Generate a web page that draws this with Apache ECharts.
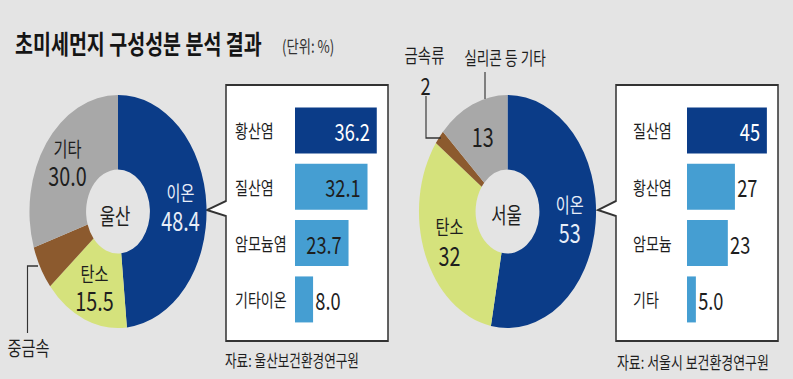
<!DOCTYPE html>
<html>
<head>
<meta charset="utf-8">
<script src="https://cdn.jsdelivr.net/npm/echarts@6/dist/echarts.min.js"></script>
<style>
  html, body { margin: 0; padding: 0; background: #e4e4e4; overflow: hidden; }
  #wrap { width: 793px; height: 379px; overflow: hidden; }
  #chart { width: 1044px; height: 379px; transform: scaleX(0.76); transform-origin: 0 0; }
</style>
</head>
<body>
<div id="wrap"><div id="chart"></div></div>
<script>
// ---------------- data ----------------
const titleText = '초미세먼지 구성성분 분석 결과';
const unitText = '(단위: %)';
const cities = ['울산', '서울'];
const ulsanNames = ['이온', '탄소', '중금속', '기타'];
const ulsanValues = [48.4, 15.5, 6.1, 30.0];
const seoulNames = ['이온', '탄소', '금속류', '실리콘 등 기타'];
const seoulValues = [53, 32, 2, 13];
const ulsanIonNames = ['황산염', '질산염', '암모늄염', '기타이온'];
const ulsanIonValues = [36.2, 32.1, 23.7, 8.0];
const seoulIonNames = ['질산염', '황산염', '암모늄', '기타'];
const seoulIonValues = [45, 27, 23, 5.0];
const sources = ['자료: 울산보건환경연구원', '자료: 서울시 보건환경연구원'];

// ---------------- styling / layout ----------------
const SX = 0.76;               // horizontal squeeze of the original graphic
const X = v => v / SX;         // reference x -> chart x
const FONT = '"Noto Sans CJK KR", "Noto Sans", sans-serif';
const C = { navy: '#0b3c88', light: '#459ed2', green: '#d5e27c', brown: '#8c5a2e', gray: '#a8a8a8', ink: '#1e1e1e', line: '#333333' };
const sliceColors = [C.navy, C.green, C.brown, C.gray];
const sliceLabelColors = ['#e8eef8', C.ink, '#f6eedf', C.ink];
const ulsanLabelMode = ['both', 'both', 'value', 'both'];
const seoulLabelMode = ['both', 'both', 'none', 'value'];
const fmt1 = v => v.toFixed(1);
const fmtInt = v => String(v);
const fmtBarR = v => (v < 10 ? v.toFixed(1) : String(v));

function pieSeries(names, values, cx, modes, fmt, nameLH, valLH) {
  return {
    type: 'pie',
    center: [X(cx), 211.5],
    radius: [42, 116.5],
    startAngle: 90,
    clockwise: true,
    avoidLabelOverlap: false,
    silent: true,
    label: {
      position: 'inside',
      fontFamily: FONT,
      formatter: p => {
        const m = modes[p.dataIndex];
        if (m === 'both') return '{n|' + p.name + '}\n{v|' + fmt(p.value) + '}';
        if (m === 'value') return '{v|' + fmt(p.value) + '}';
        return '';
      },
      rich: {
        n: { fontSize: 20, lineHeight: nameLH, fontFamily: FONT },
        v: { fontSize: 26, lineHeight: valLH, fontFamily: FONT }
      }
    },
    labelLine: { show: false },
    data: names.map((n, i) => ({
      name: n, value: values[i],
      itemStyle: { color: sliceColors[i] },
      label: { color: sliceLabelColors[i] }
    }))
  };
}

function barData(values, insideCount) {
  return values.map((v, i) => ({
    value: v,
    itemStyle: { color: i === 0 ? C.navy : C.light },
    label: i < insideCount
      ? { position: 'insideRight', distance: 9, color: i === 0 ? '#ffffff' : C.ink }
      : { position: 'right', distance: 3, color: C.ink }
  }));
}

function boxPoints(l, r, t, b, tipX) {
  return [[X(l), t], [X(r), t], [X(r), b], [X(l), b], [X(l), 216], [X(tipX), 210], [X(l), 201]];
}

function catAxis(gridIndex, names, barLeft, labelLeft) {
  return {
    gridIndex, type: 'category', inverse: true, data: names, z: 6,
    axisLine: { show: false }, axisTick: { show: false },
    axisLabel: { align: 'left', margin: X(barLeft) - X(labelLeft), fontSize: 18.5, color: C.ink, fontFamily: FONT }
  };
}

const gridTop = 102.3, gridH = 225.3;
const option = {
  backgroundColor: '#e4e4e4',
  animation: false,
  textStyle: { fontFamily: FONT },
  grid: [
    { left: X(295), top: gridTop, width: 40 * 2.259 / SX, height: gridH },
    { left: X(687), top: gridTop, width: 50 * 1.775 / SX, height: gridH }
  ],
  xAxis: [
    { gridIndex: 0, type: 'value', min: 0, max: 40, show: false },
    { gridIndex: 1, type: 'value', min: 0, max: 50, show: false }
  ],
  yAxis: [
    catAxis(0, ulsanIonNames, 295, 235),
    catAxis(1, seoulIonNames, 687, 633)
  ],
  series: [
    pieSeries(ulsanNames, ulsanValues, 118, ulsanLabelMode, fmt1, 24, 30),
    pieSeries(seoulNames, seoulValues, 507.5, seoulLabelMode, fmtInt, 25, 31),
    { type: 'bar', xAxisIndex: 0, yAxisIndex: 0, barWidth: 46, silent: true, z: 3,
      label: { show: true, fontSize: 24, fontFamily: FONT, formatter: p => fmt1(p.value) },
      data: barData(ulsanIonValues, 3) },
    { type: 'bar', xAxisIndex: 1, yAxisIndex: 1, barWidth: 46, silent: true, z: 3,
      label: { show: true, fontSize: 24, fontFamily: FONT, formatter: p => fmtBarR(p.value) },
      data: barData(seoulIonValues, 1) }
  ],
  graphic: { elements: [
    // title
    { type: 'text', x: X(15), y: 43.5, z: 10, style: { text: titleText, font: 'bold 25.7px ' + FONT, fill: '#151515', textVerticalAlign: 'middle' } },
    { type: 'text', x: X(282), y: 45.5, z: 10, style: { text: unitText, font: '17.5px ' + FONT, fill: '#333', textVerticalAlign: 'middle' } },
    // callout boxes
    { type: 'polygon', z: 1, shape: { points: boxPoints(226, 388, 85, 341, 207) }, style: { fill: '#ffffff', stroke: C.line, lineWidth: 2 } },
    { type: 'polygon', z: 1, shape: { points: boxPoints(616, 778, 85, 341, 598) }, style: { fill: '#ffffff', stroke: C.line, lineWidth: 2 } },
    // donut centres
    { type: 'text', x: X(115), y: 214, z: 10, style: { text: cities[0], font: '22px ' + FONT, fill: C.ink, textAlign: 'center', textVerticalAlign: 'middle' } },
    { type: 'text', x: X(506.5), y: 213, z: 10, style: { text: cities[1], font: '22px ' + FONT, fill: C.ink, textAlign: 'center', textVerticalAlign: 'middle' } },
    // leader lines
    { type: 'polyline', z: 1, shape: { points: [[X(38), 266], [X(27.5), 266], [X(27.5), 333]] }, style: { stroke: C.line, lineWidth: 1.5, fill: null } },
    { type: 'polyline', z: 5, shape: { points: [[X(426), 96], [X(426), 138], [X(441), 138]] }, style: { stroke: C.line, lineWidth: 1.5, fill: null } },
    { type: 'polyline', z: 5, shape: { points: [[X(485), 72], [X(485), 99]] }, style: { stroke: C.line, lineWidth: 1.5, fill: null } },
    // outside slice labels
    { type: 'text', x: X(28.5), y: 347, z: 10, style: { text: ulsanNames[2], font: '20px ' + FONT, fill: C.ink, textAlign: 'center', textVerticalAlign: 'middle' } },
    { type: 'text', x: X(424.5), y: 55, z: 10, style: { text: seoulNames[2], font: '19px ' + FONT, fill: C.ink, textAlign: 'center', textVerticalAlign: 'middle' } },
    { type: 'text', x: X(425.5), y: 84, z: 10, style: { text: fmtInt(seoulValues[2]), font: '24px ' + FONT, fill: C.ink, textAlign: 'center', textVerticalAlign: 'middle' } },
    { type: 'text', x: X(505), y: 57, z: 10, style: { text: seoulNames[3], font: '18px ' + FONT, fill: C.ink, textAlign: 'center', textVerticalAlign: 'middle' } },
    // sources
    { type: 'text', x: X(225), y: 360, z: 10, style: { text: sources[0], font: '16.6px ' + FONT, fill: C.ink, textVerticalAlign: 'middle' } },
    { type: 'text', x: X(617), y: 361, z: 10, style: { text: sources[1], font: '17px ' + FONT, fill: C.ink, textVerticalAlign: 'middle' } }
  ] }
};

const chart = echarts.init(document.getElementById('chart'), null, { renderer: 'svg', width: 1044, height: 379 });
chart.setOption(option);
</script>
</body>
</html>
